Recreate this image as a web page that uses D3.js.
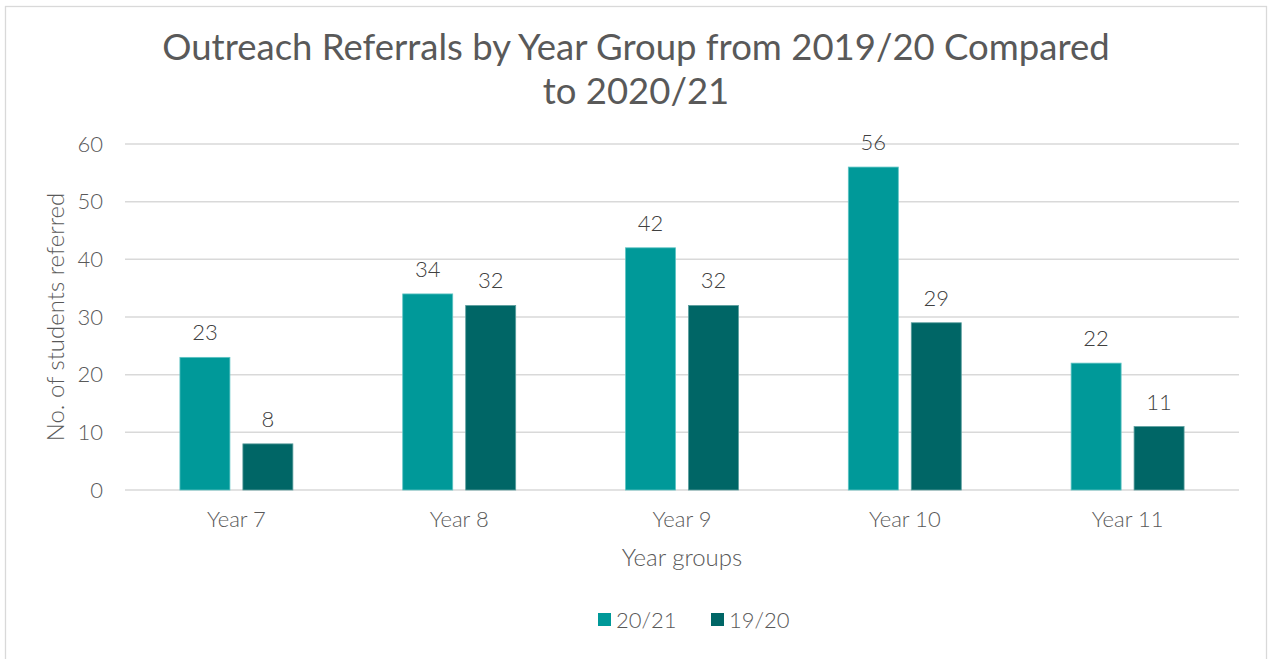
<!DOCTYPE html>
<html>
<head>
<meta charset="utf-8">
<script src="https://cdn.jsdelivr.net/npm/d3@7/dist/d3.min.js"></script>
<style>
  html, body { margin: 0; padding: 0; background: #fff; }
  svg { display: block; }
  text { font-family: "Lato", "Open Sans", sans-serif; }
</style>
</head>
<body>
<svg id="chart" width="1271" height="659"></svg>
<script>
// Referral counts per year group
const categories = ["Year 7", "Year 8", "Year 9", "Year 10", "Year 11"];
const seriesNames = ["20/21", "19/20"];
const values2021 = [23, 34, 42, 56, 22];
const values1920 = [8, 32, 32, 29, 11];
const yTicks = [0, 10, 20, 30, 40, 50, 60];
const titleLines = ["Outreach Referrals by Year Group from 2019/20 Compared", "to 2020/21"];

const colors = { "20/21": "#009999", "19/20": "#006666" };
const strokes = { "20/21": "#5fc4c4", "19/20": "#5c9e9e" };

const data = categories.map((c, i) => ({
  cat: c,
  vals: [
    { key: "20/21", value: values2021[i] },
    { key: "19/20", value: values1920[i] }
  ]
}));

const svg = d3.select("#chart");
const plot = { left: 125, right: 1239, top: 144, bottom: 490 };
const labelSize = 22;

// outer frame
svg.append("rect")
  .attr("x", 5.5).attr("y", 6.5)
  .attr("width", 1261).attr("height", 670)
  .attr("fill", "#fff").attr("stroke", "#d9d9d9").attr("stroke-width", 1.3);

const x0 = d3.scaleBand()
  .domain(categories)
  .range([plot.left, plot.right])
  .paddingInner(0.493)
  .paddingOuter(0.2465);

const x1 = d3.scaleBand()
  .domain(seriesNames)
  .range([0, x0.bandwidth()])
  .paddingInner(0.206);

const y = d3.scaleLinear().domain([0, 60]).range([plot.bottom, plot.top]);

// gridlines
svg.append("g")
  .selectAll("line")
  .data(yTicks)
  .join("line")
  .attr("x1", plot.left).attr("x2", plot.right)
  .attr("y1", d => y(d)).attr("y2", d => y(d))
  .attr("stroke", "#d9d9d9").attr("stroke-width", 1.5);

// y axis labels
const yAxis = d3.axisLeft(y).tickValues(yTicks).tickSize(0).tickPadding(0);
const yg = svg.append("g").attr("transform", `translate(${plot.left - 22},0)`).call(yAxis);
yg.select(".domain").remove();
yg.selectAll("text")
  .attr("font-family", "Lato, sans-serif")
  .attr("font-size", labelSize).attr("font-weight", 300)
  .attr("fill", "#595959");

// x axis labels
const xAxis = d3.axisBottom(x0).tickSize(0).tickPadding(0);
const xg = svg.append("g").attr("transform", `translate(0,${plot.bottom})`).call(xAxis);
xg.select(".domain").remove();
xg.selectAll("text")
  .attr("dy", null).attr("y", 37)
  .attr("font-family", "Lato, sans-serif")
  .attr("font-size", labelSize).attr("font-weight", 300)
  .attr("fill", "#595959");

// bars
const groups = svg.append("g")
  .selectAll("g")
  .data(data)
  .join("g")
  .attr("transform", d => `translate(${x0(d.cat)},0)`);

groups.selectAll("rect")
  .data(d => d.vals)
  .join("rect")
  .attr("x", d => x1(d.key))
  .attr("y", d => y(d.value))
  .attr("width", x1.bandwidth())
  .attr("height", d => y(0) - y(d.value))
  .attr("fill", d => colors[d.key])
  .attr("stroke", d => strokes[d.key])
  .attr("stroke-width", 0.8);

// value labels
groups.selectAll("text")
  .data(d => d.vals)
  .join("text")
  .attr("x", d => x1(d.key) + x1.bandwidth() / 2)
  .attr("y", d => y(d.value) - 17)
  .attr("text-anchor", "middle")
  .attr("font-size", labelSize).attr("font-weight", 300)
  .attr("fill", "#404040")
  .text(d => d.value);

// title
svg.append("text")
  .attr("text-anchor", "middle")
  .attr("font-size", 36.5).attr("font-weight", 400)
  .attr("fill", "#595959")
  .selectAll("tspan")
  .data(titleLines)
  .join("tspan")
  .attr("x", 636)
  .attr("y", (d, i) => 60 + i * 44)
  .text(d => d);

// axis titles
svg.append("text")
  .attr("transform", `translate(64,${(plot.top + plot.bottom) / 2}) rotate(-90)`)
  .attr("text-anchor", "middle")
  .attr("font-size", 24).attr("font-weight", 300)
  .attr("fill", "#595959")
  .text("No. of students referred");

svg.append("text")
  .attr("x", 682).attr("y", 566)
  .attr("text-anchor", "middle")
  .attr("font-size", 24).attr("font-weight", 300)
  .attr("fill", "#595959")
  .text("Year groups");

// legend
const legendItems = [
  { key: "20/21", x: 598 },
  { key: "19/20", x: 711 }
];
const lg = svg.append("g");
lg.selectAll("rect")
  .data(legendItems)
  .join("rect")
  .attr("x", d => d.x).attr("y", 613)
  .attr("width", 13).attr("height", 13)
  .attr("fill", d => colors[d.key]);
lg.selectAll("text")
  .data(legendItems)
  .join("text")
  .attr("x", d => d.x + 18).attr("y", 628)
  .attr("font-size", labelSize).attr("font-weight", 300)
  .attr("fill", "#595959")
  .text(d => d.key);
</script>
</body>
</html>
